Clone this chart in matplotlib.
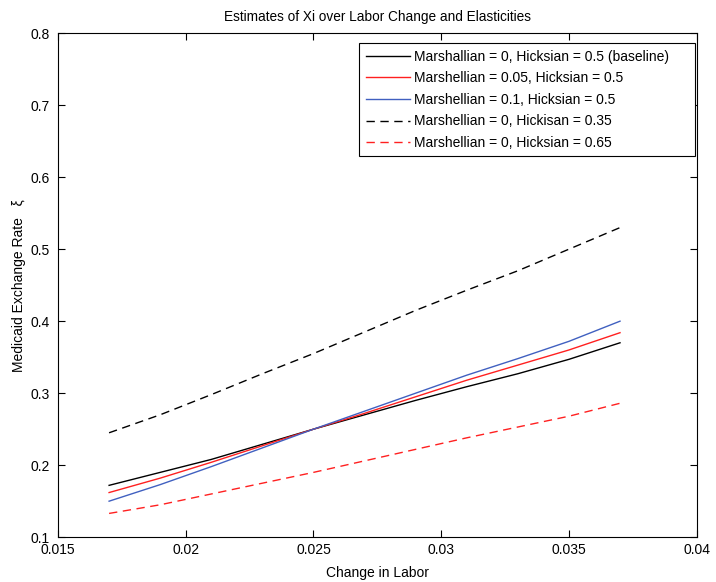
import matplotlib
matplotlib.use("Agg")
import matplotlib.pyplot as plt

plt.rcParams["font.family"] = ["Liberation Sans", "DejaVu Sans"]

labor = [0.017, 0.019, 0.021, 0.023, 0.025, 0.027, 0.029, 0.031, 0.033, 0.035, 0.037]
baseline = [0.172, 0.190, 0.208, 0.229, 0.250, 0.270, 0.290, 0.309, 0.327, 0.347, 0.370]
marsh_005 = [0.162, 0.182, 0.204, 0.227, 0.250, 0.272, 0.295, 0.318, 0.339, 0.360, 0.384]
marsh_01 = [0.150, 0.173, 0.198, 0.224, 0.250, 0.275, 0.300, 0.325, 0.348, 0.372, 0.400]
hicks_035 = [0.245, 0.270, 0.298, 0.327, 0.355, 0.385, 0.415, 0.443, 0.470, 0.500, 0.530]
hicks_065 = [0.133, 0.145, 0.160, 0.175, 0.190, 0.206, 0.222, 0.238, 0.253, 0.268, 0.286]

labels = [
    "Marshallian = 0, Hicksian = 0.5 (baseline)     ",
    "Marshellian = 0.05, Hicksian = 0.5",
    "Marshellian = 0.1, Hicksian = 0.5",
    "Marshellian = 0, Hickisan = 0.35",
    "Marshellian = 0, Hicksian = 0.65",
]

fig = plt.figure(figsize=(7.16, 5.82), dpi=100)
ax = fig.add_axes([0.081, 0.077, 0.892, 0.866])

ax.plot(labor, baseline, color="black", lw=1.0, label=labels[0])
ax.plot(labor, marsh_005, color="#ff2020", lw=1.0, label=labels[1])
ax.plot(labor, marsh_01, color="#4060c0", lw=1.0, label=labels[2])
ax.plot(labor, hicks_035, color="black", lw=1.0, dashes=(6, 4), label=labels[3])
ax.plot(labor, hicks_065, color="#ff2020", lw=1.0, dashes=(6, 4), label=labels[4])

ax.set_xlim(0.015, 0.04)
ax.set_ylim(0.1, 0.8)
ax.set_xticks([0.015, 0.02, 0.025, 0.03, 0.035, 0.04])
ax.set_xticklabels(["0.015", "0.02", "0.025", "0.03", "0.035", "0.04"])
ax.set_yticks([0.1, 0.2, 0.3, 0.4, 0.5, 0.6, 0.7, 0.8])
ax.tick_params(direction="in", top=True, right=True, labelsize=10, length=5, width=0.8)
ax.tick_params(axis="x", pad=4.5)
ax.tick_params(axis="y", pad=6)
for s in ax.spines.values():
    s.set_linewidth(0.8)

ax.set_title("Estimates of Xi over Labor Change and Elasticities", fontsize=9.8, pad=9)
ax.set_xlabel("Change in Labor", fontsize=10, labelpad=6)
ax.set_ylabel("Medicaid Exchange Rate   \u03be", fontsize=10, labelpad=3)

leg = ax.legend(loc="upper right", bbox_to_anchor=(0.997, 0.980), borderaxespad=0,
                fontsize=10, fancybox=False, framealpha=1, edgecolor="black",
                handlelength=3.2, labelspacing=0.55, handletextpad=0.3,
                borderpad=0.45)
leg.get_frame().set_linewidth(0.8)

fig.savefig("out.png", dpi=100)
